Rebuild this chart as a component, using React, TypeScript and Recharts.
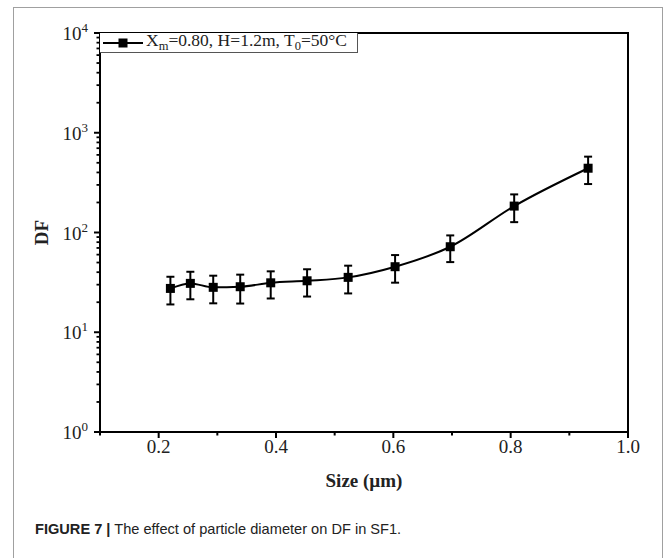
import React from 'react';
import { ComposedChart, Line, XAxis, YAxis, ErrorBar, ReferenceArea, Label } from 'recharts';

// particle size (µm) and decontamination factor
const sizes = [0.22, 0.254, 0.293, 0.339, 0.391, 0.453, 0.523, 0.603, 0.697, 0.806, 0.932];
const dfValues = [27.5, 30.9, 28.2, 28.6, 31.3, 32.8, 35.5, 45.4, 72, 184, 441];
const dfErrors = [8.5, 9.5, 8.7, 9.2, 9.5, 10, 11, 14, 21.5, 57, 135];

const xMajorTicks = [0.2, 0.4, 0.6, 0.8, 1.0];
const xMinorTicks = [0.1, 0.3, 0.5, 0.7, 0.9];
const yMajorTicks = [1, 10, 100, 1000, 10000];
const yMinorTicks = [1, 10, 100, 1000].flatMap(d => [2, 3, 4, 5, 6, 7, 8, 9].map(m => m * d));

const data = sizes.map((s, i) => ({ size: s, df: dfValues[i], err: dfErrors[i] }));

const SERIF = '"Liberation Serif", "DejaVu Serif", serif';
const SANS = '"Liberation Sans", Arial, sans-serif';

const X_TICK_SIZE = 6;
const X_TICK_MARGIN = 2;
const Y_TICK_SIZE = 6;
const Y_TICK_MARGIN = 6;

const isMajorX = (v: number) => xMajorTicks.some(t => Math.abs(t - v) < 1e-6);
const isMajorY = (v: number) => yMajorTicks.some(t => Math.abs(t - v) < 1e-6);

// left axis tick: draws its own tick line (long for decades, short for minor)
const YTick = (props: any) => {
  const { x, y, payload } = props;
  const axisX = x + Y_TICK_MARGIN + Y_TICK_SIZE;
  const major = isMajorY(payload.value);
  const len = major ? Y_TICK_SIZE : 3.5;
  return (
    <g>
      <line x1={axisX - len} y1={y} x2={axisX} y2={y} stroke="#000" strokeWidth={major ? 2 : 1.8} />
      {major && (
        <text x={x} y={y} textAnchor="end" fontFamily={SERIF} fontSize={19} fill="#222">
          <tspan dy="0.38em">10</tspan>
          <tspan dy="-0.62em" fontSize={13}>{Math.round(Math.log10(payload.value))}</tspan>
        </text>
      )}
    </g>
  );
};

const XTick = (props: any) => {
  const { x, y, payload } = props;
  const axisY = y - X_TICK_MARGIN - X_TICK_SIZE;
  const major = isMajorX(payload.value);
  const len = major ? X_TICK_SIZE : 3.5;
  return (
    <g>
      <line x1={x} y1={axisY} x2={x} y2={axisY + len} stroke="#000" strokeWidth={2} />
      {major && (
        <text x={x} y={y} dy="0.71em" textAnchor="middle" fontFamily={SERIF} fontSize={19} fill="#222">
          {payload.value.toFixed(1)}
        </text>
      )}
    </g>
  );
};

const SquareDot = (props: any) => {
  const { cx, cy } = props;
  if (cx == null || cy == null) return null;
  return <rect x={cx - 4.5} y={cy - 4.5} width={9} height={9} fill="#000" />;
};

export default function App() {
  const xTicks = [...xMinorTicks, ...xMajorTicks].sort((a, b) => a - b);
  const yTicks = [...yMajorTicks, ...yMinorTicks].sort((a, b) => a - b);
  return (
    <div style={{ position: 'absolute', left: 0, top: 0, width: 665, height: 558, overflow: 'hidden', background: '#fff' }}>
      <div style={{ position: 'absolute', left: 13, top: 7, width: 648, height: 600, border: '1px solid #a0a0a0' }} />

      <div style={{ position: 'absolute', left: 0, top: 0 }}>
        <ComposedChart width={665} height={500} data={data} margin={{ top: 33, right: 37, bottom: 18, left: 20 }}>
          <XAxis
            dataKey="size"
            type="number"
            domain={[0.1, 1.0]}
            ticks={xTicks}
            interval={0}
            allowDataOverflow
            tick={XTick}
            tickSize={X_TICK_SIZE}
            tickMargin={X_TICK_MARGIN}
            axisLine={{ stroke: '#000', strokeWidth: 2 }}
            tickLine={false}
            height={50}
          >
            <Label
              content={(p: any) => {
                const vb = p.viewBox;
                return (
                  <text x={vb.x + vb.width / 2} y={vb.y + 55} textAnchor="middle" fontFamily={SERIF} fontWeight="bold" fontSize={19} fill="#222">
                    Size (µm)
                  </text>
                );
              }}
            />
          </XAxis>
          <YAxis
            type="number"
            scale="log"
            domain={[1, 10000]}
            ticks={yTicks}
            interval={0}
            allowDataOverflow
            tick={YTick}
            tickSize={Y_TICK_SIZE}
            tickMargin={Y_TICK_MARGIN}
            axisLine={{ stroke: '#000', strokeWidth: 2 }}
            tickLine={false}
            width={80}
          >
            <Label
              content={(p: any) => {
                const vb = p.viewBox;
                const cx = vb.x + 21;
                const cy = vb.y + vb.height / 2;
                return (
                  <text x={cx} y={cy} transform={`rotate(-90 ${cx} ${cy})`} textAnchor="middle" dominantBaseline="central" fontFamily={SERIF} fontWeight="bold" fontSize={19} fill="#222">
                    DF
                  </text>
                );
              }}
            />
          </YAxis>
          <ReferenceArea x1={0.1} x2={1.0} y1={1} y2={10000} fill="none" stroke="#000" strokeWidth={2} ifOverflow="visible" />
          <Line
            dataKey="df"
            type="monotone"
            stroke="#000"
            strokeWidth={2}
            dot={<SquareDot />}
            activeDot={false}
            isAnimationActive={false}
          >
            <ErrorBar dataKey="err" direction="y" width={4} stroke="#000" strokeWidth={2} isAnimationActive={false} />
          </Line>
        </ComposedChart>
      </div>

      {/* legend box */}
      <div style={{ position: 'absolute', left: 100, top: 33, width: 258, height: 20, border: '1px solid #555', borderTop: 'none', borderLeft: 'none', boxSizing: 'border-box', display: 'flex', alignItems: 'center', fontFamily: SERIF, fontSize: 17.5, color: '#222', background: '#fff' }}>
        <svg width={46} height={20} style={{ flex: 'none' }}>
          <line x1={3} y1={10} x2={43} y2={10} stroke="#000" strokeWidth={2} />
          <rect x={18.5} y={5.5} width={9} height={9} fill="#000" />
        </svg>
        <span style={{ whiteSpace: 'nowrap', lineHeight: '20px' }}>
          X<sub style={{ fontSize: 12.5, verticalAlign: '-4px' }}>m</sub>=0.80, H=1.2m, T<sub style={{ fontSize: 12.5, verticalAlign: '-4px' }}>0</sub>=50°C
        </span>
      </div>

      <div style={{ position: 'absolute', left: 35, top: 521, fontFamily: SANS, fontSize: 14.6, color: '#222', whiteSpace: 'nowrap' }}>
        <b>FIGURE 7 |</b> The effect of particle diameter on DF in SF1.
      </div>
    </div>
  );
}
